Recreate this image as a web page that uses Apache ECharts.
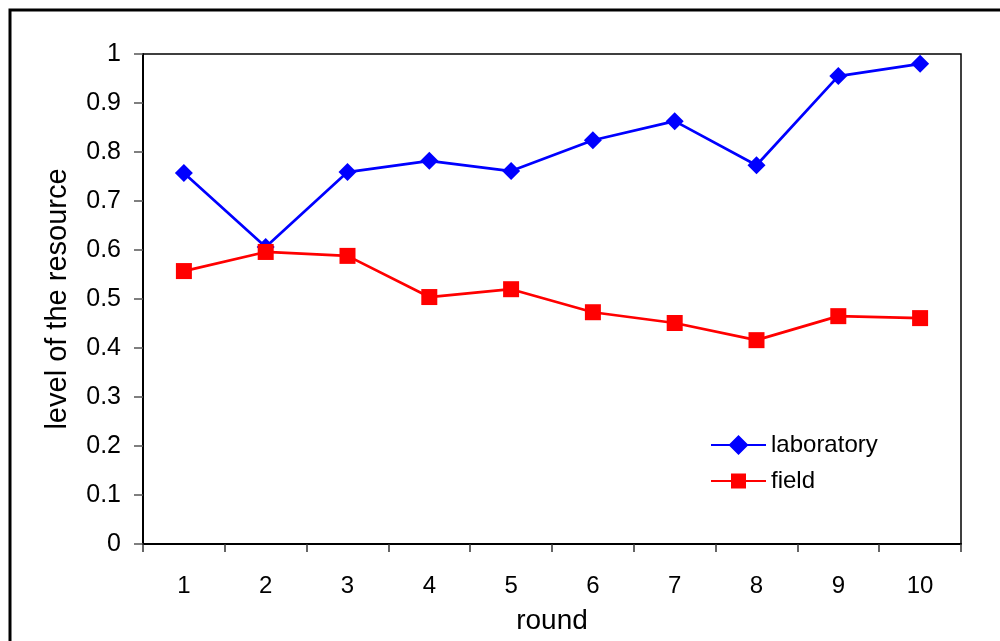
<!DOCTYPE html>
<html><head><meta charset="utf-8">
<script src="https://cdn.jsdelivr.net/npm/echarts@6/dist/echarts.min.js"></script>
<style>html,body{margin:0;padding:0;background:#fff}#c{width:1000px;height:641px}</style>
</head><body><div id="c"></div>
<script>
var categories = ['1','2','3','4','5','6','7','8','9','10'];
var laboratory = [0.757, 0.606, 0.759, 0.782, 0.761, 0.824, 0.863, 0.773, 0.955, 0.980];
var field = [0.557, 0.596, 0.588, 0.504, 0.520, 0.473, 0.451, 0.416, 0.465, 0.461];
var yTicks = [0, 0.1, 0.2, 0.3, 0.4, 0.5, 0.6, 0.7, 0.8, 0.9, 1];

var font = 'Liberation Sans, Arial, sans-serif';
var labIcon = 'path://M0,8.9L55,8.9L55,11.1L0,11.1Z M17.5,10L27.5,0L37.5,10L27.5,20Z';
var fieldIcon = 'path://M0,8.9L55,8.9L55,11.1L0,11.1Z M20,2.5L35,2.5L35,17.5L20,17.5Z';
var chart = echarts.init(document.getElementById('c'), null, {renderer:'canvas'});
chart.setOption({
  animation:false,
  backgroundColor:'#fff',
  graphic:[{type:'rect', shape:{x:10,y:10,width:1000,height:650}, style:{fill:'none', stroke:'#000', lineWidth:3}, z:-1}],
  grid:{left:143, right:39, top:54, bottom:97, show:true, borderColor:'#000', borderWidth:1.5, backgroundColor:'transparent'},
  legend:{
    orient:'vertical', left:706, top:428, itemWidth:55, itemHeight:20, itemGap:12,
    textStyle:{fontFamily:font, fontSize:24, color:'#000'},
    data:[{name:'laboratory', icon:labIcon},{name:'field', icon:fieldIcon}]
  },
  xAxis:{
    type:'category', data:categories, boundaryGap:true,
    name:'round', nameLocation:'middle', nameGap:63,
    nameTextStyle:{fontFamily:font, fontSize:28, color:'#000'},
    axisLine:{lineStyle:{color:'#000', width:2}},
    axisTick:{show:true, length:8, lineStyle:{color:'#333', width:1.5}},
    axisLabel:{fontFamily:font, fontSize:24, color:'#000', margin:30}
  },
  yAxis:{
    type:'value', min:0, max:1, interval:0.1,
    name:'level of the resource', nameLocation:'middle', nameGap:71,
    nameTextStyle:{fontFamily:font, fontSize:29, color:'#000'},
    axisLine:{show:true, lineStyle:{color:'#000', width:2}},
    axisTick:{show:true, length:9, lineStyle:{color:'#555', width:1.5}},
    splitLine:{show:false},
    axisLabel:{fontFamily:font, fontSize:25, color:'#000', margin:22,
      formatter:function(v){ var r = Math.round(v*10)/10; return yTicks.indexOf(r)>=0 ? String(r) : ''; }}
  },
  series:[
    {name:'laboratory', type:'line', data:laboratory, symbol:'diamond', symbolSize:18,
     itemStyle:{color:'#0000ff'}, lineStyle:{color:'#0000ff', width:2.7}},
    {name:'field', type:'line', data:field, symbol:'rect', symbolSize:16,
     itemStyle:{color:'#ff0000'}, lineStyle:{color:'#ff0000', width:2.7}}
  ]
});
</script></body></html>
